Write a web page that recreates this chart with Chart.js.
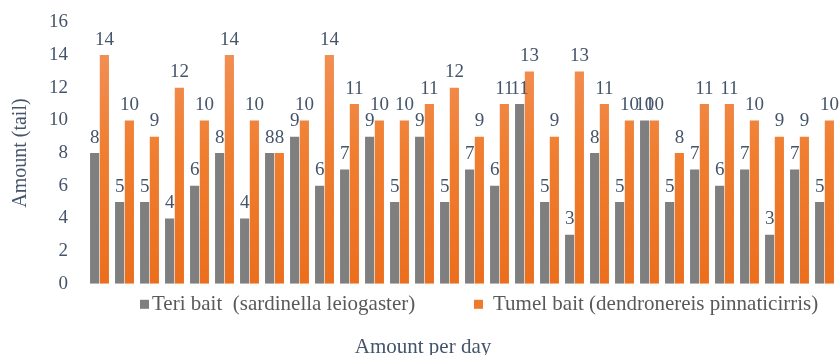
<!DOCTYPE html>
<html>
<head>
<meta charset="utf-8">
<script src="https://cdn.jsdelivr.net/npm/chart.js@4"></script>
<style>
  html,body{margin:0;padding:0;background:#fff;}
  #wrap{width:840px;height:355px;}
</style>
</head>
<body>
<div id="wrap"><canvas id="chart" width="840" height="355"></canvas></div>
<script>
// DATA
const days = ["1","2","3","4","5","6","7","8","9","10","11","12","13","14","15",
              "16","17","18","19","20","21","22","23","24","25","26","27","28","29","30"];
const teriBait  = [8,5,5,4,6,8,4,8,9,6,7,9,5,9,5,7,6,11,5,3,8,5,10,5,7,6,7,3,7,5];
const tumelBait = [14,10,9,12,10,14,10,8,10,14,11,10,10,11,12,9,11,13,9,13,11,10,10,8,11,11,10,9,9,10];
const seriesNames = ["Teri bait  (sardinella leiogaster)", "Tumel bait (dendronereis pinnaticirris)"];
const yTicks = [0,2,4,6,8,10,12,14,16];

const serif = "'Liberation Serif','Times New Roman',serif";
const textBlue = "#44546A";
const grayBar = "#7F7F7F";
const orangeBar = "#EE7A2C";

// orange gradient, lighter at top
function orangeFill(ctx){
  const c = ctx.chart;
  const a = c.chartArea;
  if(!a) return orangeBar;
  const g = c.ctx.createLinearGradient(0, a.top, 0, a.bottom);
  g.addColorStop(0, "#F29460");
  g.addColorStop(0.5, "#F07E30");
  g.addColorStop(1, "#EC6E1C");
  return g;
}

// value labels above bars
const valueLabels = {
  id: "valueLabels",
  afterDatasetsDraw(chart){
    const ctx = chart.ctx;
    ctx.save();
    ctx.font = "19px " + serif;
    ctx.fillStyle = textBlue;
    ctx.textAlign = "center";
    ctx.textBaseline = "bottom";
    chart.data.datasets.forEach((ds, i) => {
      chart.getDatasetMeta(i).data.forEach((bar, j) => {
        ctx.fillText(ds.data[j], bar.x, bar.y - 6);
      });
    });
    ctx.restore();
  }
};

// legend drawn by hand so the spacing matches the original
const bottomLegend = {
  id: "bottomLegend",
  afterDraw(chart){
    const ctx = chart.ctx;
    const y = chart.chartArea.bottom + 21;
    const colors = [grayBar, orangeBar];
    const starts = [140, 474];
    ctx.save();
    ctx.font = "21px " + serif;
    ctx.textBaseline = "middle";
    seriesNames.forEach((name, i) => {
      ctx.fillStyle = colors[i];
      ctx.fillRect(starts[i], y - 5, 9, 9);
      ctx.fillStyle = "#595959";
      ctx.fillText(name, starts[i] + (i === 0 ? 12 : 19), y);
    });
    ctx.restore();
  }
};

new Chart(document.getElementById("chart"), {
  type: "bar",
  data: {
    labels: days,
    datasets: [
      { label: seriesNames[0], data: teriBait, backgroundColor: grayBar,
        categoryPercentage: 0.78, barPercentage: 0.94 },
      { label: seriesNames[1], data: tumelBait, backgroundColor: orangeFill,
        categoryPercentage: 0.78, barPercentage: 0.94 }
    ]
  },
  options: {
    responsive: false,
    animation: false,
    layout: { padding: { top: 9, right: 3, left: 9, bottom: 0 } },
    scales: {
      x: {
        grid: { display: false },
        border: { display: false },
        ticks: { display: false }
      },
      y: {
        min: 0, max: 16,
        afterBuildTicks(axis){ axis.ticks = yTicks.map(v => ({ value: v })); },
        grid: { display: false },
        border: { display: false },
        ticks: { font: { family: serif, size: 19 }, color: textBlue, padding: 11 },
        title: { display: true, text: "Amount (tail)", font: { family: serif, size: 20 },
                 color: textBlue, padding: { top: 0, bottom: 5 } }
      }
    },
    plugins: {
      legend: { display: false },
      title: {
        display: true,
        position: "bottom",
        text: "Amount per day",
        font: { family: serif, size: 21, weight: "normal" },
        color: textBlue,
        padding: { top: 43, bottom: -5 }
      },
      tooltip: { enabled: false }
    }
  },
  plugins: [valueLabels, bottomLegend]
});
</script>
</body>
</html>
